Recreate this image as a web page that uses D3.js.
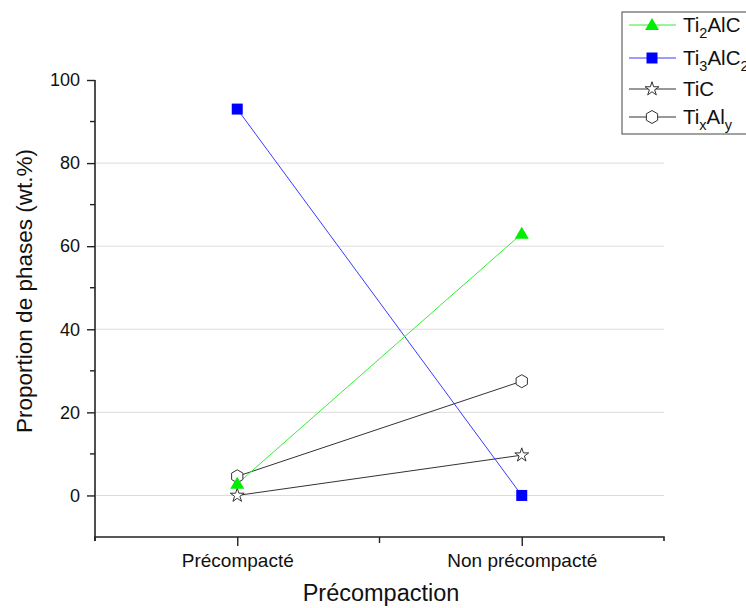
<!DOCTYPE html>
<html><head><meta charset="utf-8">
<script src="https://cdn.jsdelivr.net/npm/d3@7"></script>
<style>body{margin:0;background:#fff}svg{display:block;font-family:"Liberation Sans",Arial,sans-serif}</style>
</head><body><svg id="c" width="746" height="608"></svg>
<script>
const categories = ["Précompacté", "Non précompacté"];
const ti2alc = [2.8, 63];
const ti3alc2 = [93, 0];
const tic = [0, 9.7];
const tixaly = [4.6, 27.5];
const yTicks = [0, 20, 40, 60, 80, 100];
const yMinor = [-10, 10, 30, 50, 70, 90];

const svg = d3.select("#c");
const x = d3.scaleLinear().domain([0.5, 2.5]).range([95, 664]);
const y = d3.scaleLinear().domain([-10, 100]).range([537, 80]);

// gridlines
svg.append("g").selectAll("line").data(yTicks.filter(d => d < 100)).join("line")
  .attr("x1", 96).attr("x2", 664).attr("y1", d => y(d)).attr("y2", d => y(d))
  .attr("stroke", "#dcdcdc").attr("stroke-width", 1);

// y axis
const ya = svg.append("g").attr("transform", "translate(95,0)")
  .call(d3.axisLeft(y).tickValues(yTicks).tickSize(8).tickPadding(7).tickFormat(d3.format("d")));
ya.select(".domain").attr("d", `M0,${y(100)}V${y(-10)+4}`).attr("stroke", "#222").attr("stroke-width", 1.6);
ya.selectAll(".tick line").attr("stroke", "#222").attr("stroke-width", 1.4);
ya.selectAll(".tick text").attr("font-size", 18).attr("fill", "#111");
svg.append("g").selectAll("line").data(yMinor.filter(d => d > -10)).join("line")
  .attr("x1", 90).attr("x2", 95).attr("y1", d => y(d)).attr("y2", d => y(d))
  .attr("stroke", "#222").attr("stroke-width", 1.4);

// x axis
const xa = svg.append("g").attr("transform", "translate(0,537)")
  .call(d3.axisBottom(x).tickValues([1, 2]).tickSize(9).tickPadding(8)
    .tickFormat(d => categories[d - 1]));
xa.select(".domain").attr("d", `M${x(0.5)},4V0H${x(2.5)}V4`).attr("stroke", "#222").attr("stroke-width", 1.6).attr("fill", "none");
xa.selectAll(".tick line").attr("stroke", "#222").attr("stroke-width", 1.4);
xa.selectAll(".tick text").attr("font-size", 19).attr("fill", "#111");
svg.append("line").attr("x1", x(1.5)).attr("x2", x(1.5)).attr("y1", 537).attr("y2", 543)
  .attr("stroke", "#222").attr("stroke-width", 1.4);

// titles
svg.append("text").attr("x", 381).attr("y", 601).attr("text-anchor", "middle")
  .attr("font-size", 23.5).attr("fill", "#111").text("Précompaction");
svg.append("text").attr("transform", "translate(32,291) rotate(-90)").attr("text-anchor", "middle")
  .attr("font-size", 22.5).attr("fill", "#111").text("Proportion de phases (wt.%)");

// symbols
const hex = r => { let p = []; for (let i = 0; i < 6; i++) { const a = Math.PI / 3 * i - Math.PI / 2; p.push([r * Math.cos(a), r * Math.sin(a)]); } return "M" + p.join("L") + "Z"; };
const series = [
  { name: "TixAly", vals: tixaly, line: "#333", sym: hex(6.5), fill: "#fff", stroke: "#333" },
  { name: "TiC", vals: tic, line: "#333", sym: d3.symbol(d3.symbolStar, 60)(), fill: "#fff", stroke: "#333" },
  { name: "Ti3AlC2", vals: ti3alc2, line: "#3a3aff", sym: "M-5.5,-5.5H5.5V5.5H-5.5Z", fill: "#0000ff", stroke: "none" },
  { name: "Ti2AlC", vals: ti2alc, line: "#33ee33", sym: "M0,-7L7,5L-7,5Z", fill: "#00ee00", stroke: "none" }
];
const line = d3.line().x((d, i) => x(i + 1)).y(d => y(d));
series.forEach(s => {
  svg.append("path").attr("d", line(s.vals)).attr("fill", "none").attr("stroke", s.line).attr("stroke-width", 1);
});
series.forEach(s => {
  svg.append("g").selectAll("path").data(s.vals).join("path")
    .attr("transform", (d, i) => `translate(${x(i + 1)},${y(d)})`)
    .attr("d", s.sym).attr("fill", s.fill).attr("stroke", s.stroke).attr("stroke-width", 1);
});

// legend
const lg = svg.append("g");
lg.append("rect").attr("x", 622).attr("y", 12).attr("width", 140).attr("height", 122)
  .attr("fill", "#fff").attr("stroke", "#444").attr("stroke-width", 1);
const legendItems = [
  { s: series[3], y: 25, main: ["Ti", "2", "AlC"] },
  { s: series[2], y: 58, main: ["Ti", "3", "AlC", "2"] },
  { s: series[1], y: 89, main: ["TiC"] },
  { s: series[0], y: 117, main: ["Ti", "x", "Al", "y"] }
];
legendItems.forEach(it => {
  lg.append("line").attr("x1", 629).attr("x2", 676).attr("y1", it.y).attr("y2", it.y)
    .attr("stroke", it.s.line).attr("stroke-width", 1);
  lg.append("path").attr("transform", `translate(652,${it.y})`).attr("d", it.s.sym)
    .attr("fill", it.s.fill).attr("stroke", it.s.stroke);
  const t = lg.append("text").attr("x", 683).attr("y", it.y + 7).attr("font-size", 20.5).attr("fill", "#111");
  it.main.forEach((p, i) => {
    const sub = i % 2 === 1;
    t.append("tspan").attr("font-size", sub ? 14.5 : 20.5).attr("dy", sub ? 6 : (i > 0 ? -6 : 0)).text(p);
  });
});
</script></body></html>
